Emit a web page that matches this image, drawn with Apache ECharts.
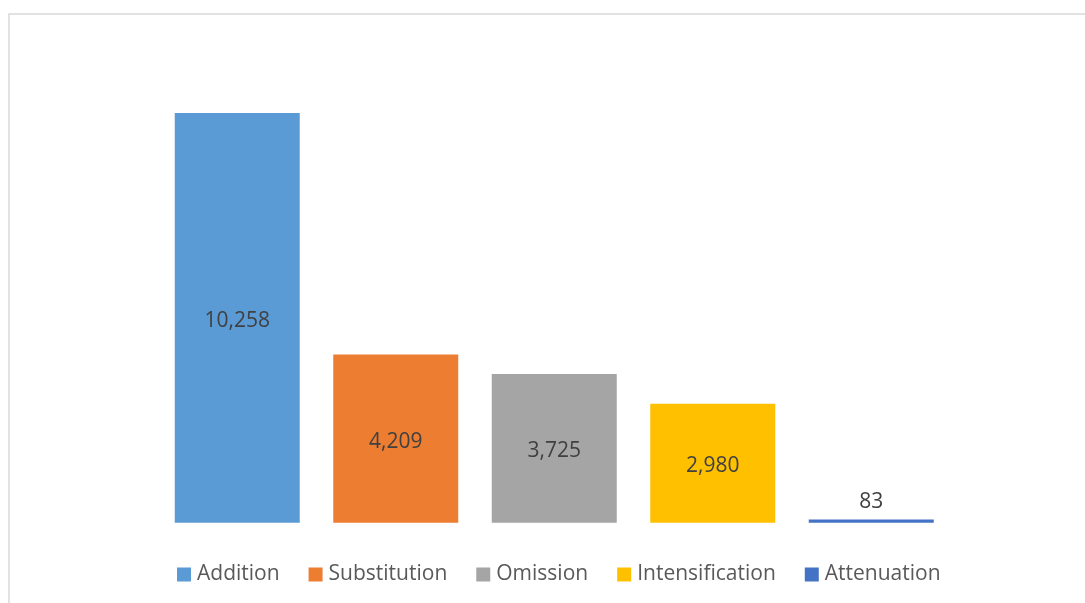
<!DOCTYPE html>
<html>
<head>
<meta charset="utf-8">
<script src="https://cdn.jsdelivr.net/npm/echarts@6/dist/echarts.min.js"></script>
<style>html,body{margin:0;padding:0;background:#fff}#c{width:1085px;height:603px}</style>
</head>
<body>
<div id="c"></div>
<script>
const categories = ['Addition', 'Substitution', 'Omission', 'Intensification', 'Attenuation'];
const values = [10258, 4209, 3725, 2980, 83];
const colors = ['#5b9bd5', '#ed7d31', '#a5a5a5', '#ffc000', '#4472c4'];

const chart = echarts.init(document.getElementById('c'));
const series = categories.map((name, i) => ({
  name: name,
  type: 'bar',
  stack: 'all',
  barWidth: 125,
  itemStyle: { color: colors[i] },
  data: categories.map((c, j) => (j === i ? values[i] : null)),
  label: {
    show: true,
    position: values[i] < 500 ? 'top' : 'inside',
    distance: 7,
    offset: values[i] < 500 ? [0, 0] : [0, 3],
    color: '#404040',
    fontFamily: 'Open Sans',
    fontSize: 21,
    formatter: p => p.value == null ? '' : p.value.toLocaleString('en-US')
  }
}));

chart.setOption({
  animation: false,
  graphic: [{
    type: 'rect',
    shape: { x: 9, y: 14, width: 1100, height: 620 },
    style: { fill: 'none', stroke: '#d9d9d9', lineWidth: 1.5 },
    silent: true
  }],
  grid: { left: 158, right: 134.5, top: 43.5, bottom: 80.3 },
  xAxis: {
    type: 'category',
    data: categories,
    axisLine: { show: false },
    axisTick: { show: false },
    axisLabel: { show: false }
  },
  yAxis: {
    type: 'value',
    min: 0,
    max: 12000,
    show: false,
    splitLine: { show: false }
  },
  legend: {
    data: categories,
    left: 172,
    top: 559,
    itemWidth: 14,
    itemHeight: 14,
    itemGap: 29,
    icon: 'rect',
    textStyle: { color: '#595959', fontFamily: 'Open Sans', fontSize: 21, padding: [0, 0, 0, 1] }
  },
  series: series
});
</script>
</body>
</html>
